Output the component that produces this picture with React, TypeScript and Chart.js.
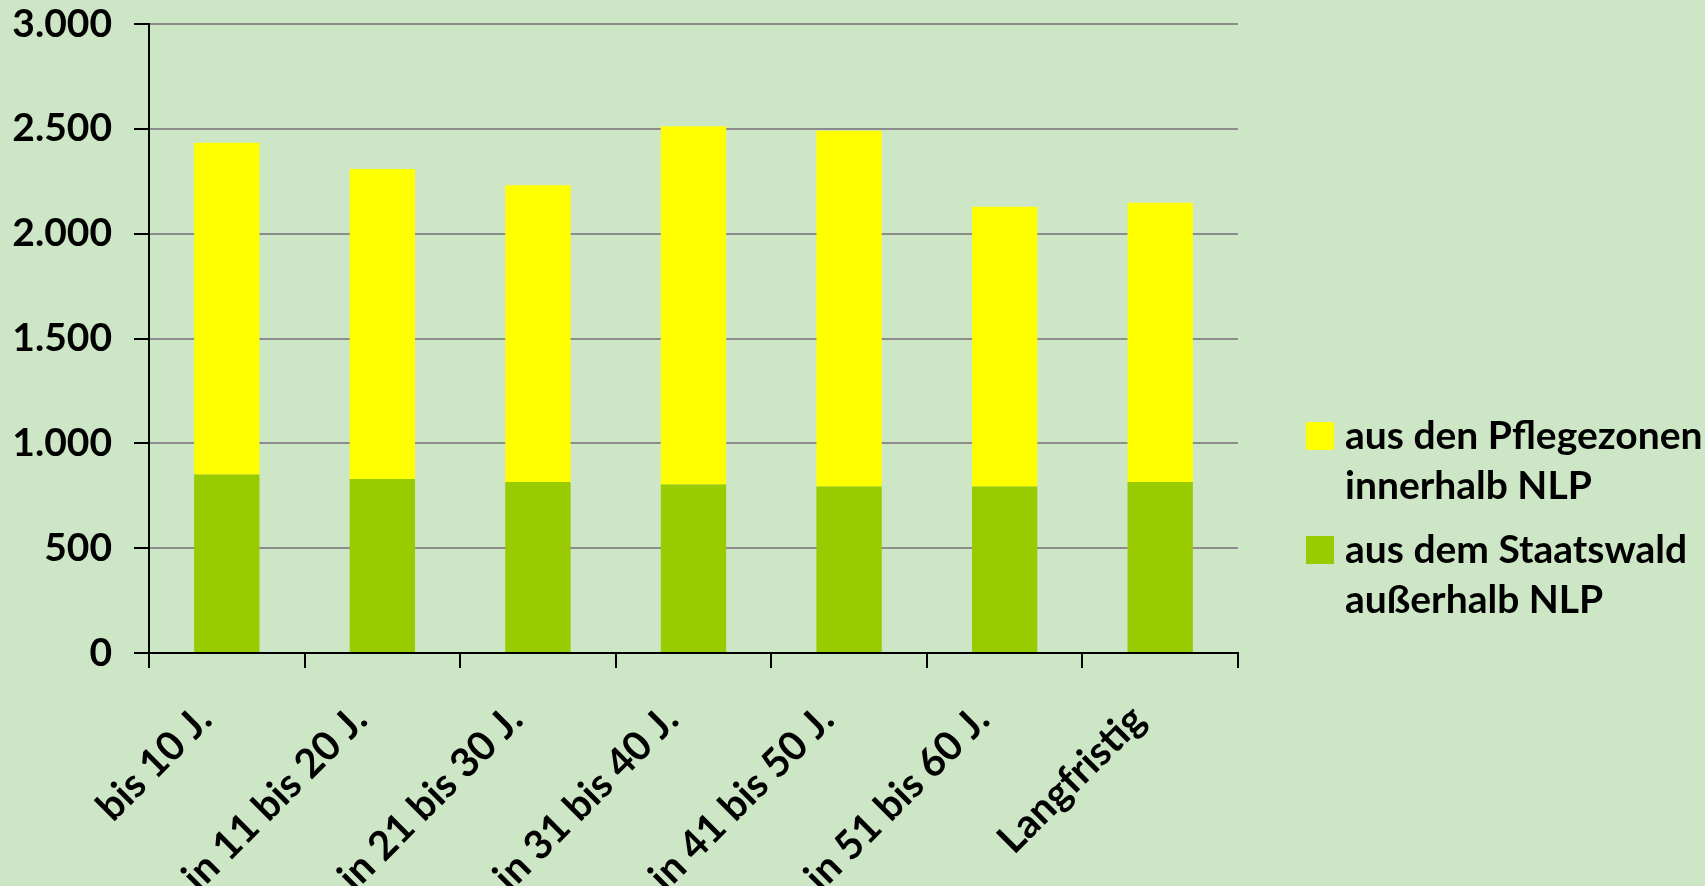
import React, { useEffect, useRef } from 'react';
import { Chart, registerables } from 'chart.js';

Chart.register(...registerables);

const categories = [
  'bis 10 J.',
  'in 11 bis 20 J.',
  'in 21 bis 30 J.',
  'in 31 bis 40 J.',
  'in 41 bis 50 J.',
  'in 51 bis 60 J.',
  'Langfristig',
];
const staatswald = [851, 830, 815, 804, 794, 794, 815];
const pflegezonen = [1583, 1479, 1416, 1708, 1697, 1334, 1333];
const staatswaldLabel = ['aus dem Staatswald', 'außerhalb NLP'];
const pflegezonenLabel = ['aus den Pflegezonen', 'innerhalb NLP'];
const yMax = 3000;
const yStep = 500;

const BG = '#cde6c5';
const YELLOW = '#ffff00';
const GREEN = '#99cc00';
const FONT = 'Lato, "Open Sans", sans-serif';

function formatDe(v: number): string {
  const s = Math.round(v).toString();
  return s.replace(/\B(?=(\d{3})+(?!\d))/g, '.');
}

const sideLegend = {
  id: 'sideLegend',
  afterDraw(chart: any) {
    const ctx = chart.ctx;
    const ds = chart.data.datasets;
    const order = [1, 0];
    const x0 = chart.chartArea.right + 68;
    const startY = 422;
    const blockGap = 114;
    const lineH = 50;
    ctx.save();
    ctx.font = `bold 39px ${FONT}`;
    ctx.fillStyle = '#000';
    ctx.textAlign = 'left';
    ctx.textBaseline = 'alphabetic';
    order.forEach((di, k) => {
      const d = ds[di];
      const top = startY + k * blockGap;
      ctx.fillStyle = d.backgroundColor;
      ctx.fillRect(x0, top, 28, 28);
      ctx.fillStyle = '#000';
      const lines: string[] = d.legendLines;
      lines.forEach((t, i) => {
        ctx.fillText(t, x0 + 39, top + 27 + i * lineH);
      });
    });
    ctx.restore();
  },
};

export default function App() {
  const ref = useRef<HTMLCanvasElement | null>(null);
  useEffect(() => {
    if (!ref.current) return;
    const chart = new Chart(ref.current, {
      type: 'bar',
      data: {
        labels: categories,
        datasets: [
          {
            label: staatswaldLabel.join(' '),
            legendLines: staatswaldLabel,
            data: staatswald,
            backgroundColor: GREEN,
            borderWidth: 0,
          } as any,
          {
            label: pflegezonenLabel.join(' '),
            legendLines: pflegezonenLabel,
            data: pflegezonen,
            backgroundColor: YELLOW,
            borderWidth: 0,
          } as any,
        ],
      },
      options: {
        animation: false,
        responsive: true,
        maintainAspectRatio: false,
        devicePixelRatio: 1,
        layout: { padding: { top: 24, left: 0, right: 467, bottom: 0 } },
        datasets: {
          bar: { categoryPercentage: 1, barPercentage: 0.42 },
        },
        plugins: {
          legend: { display: false },
          tooltip: { enabled: false },
          title: { display: false },
        },
        scales: {
          x: {
            stacked: true,
            offset: true,
            afterFit: (s: any) => {
              s.height = 233;
              s.paddingTop = 0;
              s.paddingBottom = 0;
            },
            grid: {
              display: true,
              offset: true,
              drawOnChartArea: false,
              drawTicks: true,
              tickLength: 15,
              tickColor: '#000',
              tickWidth: 2,
              lineWidth: 2,
              color: '#000',
            },
            border: { display: true, color: '#000', width: 2 },
            ticks: {
              autoSkip: false,
              maxRotation: 45,
              minRotation: 45,
              padding: 28,
              labelOffset: -22,
              color: '#000',
              font: { family: FONT, size: 40, weight: 'bold' },
            },
          },
          y: {
            stacked: true,
            min: 0,
            max: yMax,
            afterFit: (s: any) => {
              s.width = 149;
              s.paddingTop = 0;
              s.paddingBottom = 0;
            },
            grid: {
              color: (c: any) => (c.tick && c.tick.value === 0 ? '#000' : '#8c8c8c'),
              lineWidth: 2,
              drawTicks: true,
              tickLength: 15,
              tickColor: '#000',
              tickWidth: 2,
            },
            border: { display: true, color: '#000', width: 2 },
            ticks: {
              stepSize: yStep,
              padding: 22,
              color: '#000',
              font: { family: FONT, size: 39, weight: 'bold' },
              callback: (v: any) => formatDe(Number(v)),
            },
          },
        },
      } as any,
      plugins: [sideLegend],
    });
    return () => chart.destroy();
  }, []);
  return (
    <div
      style={{
        position: 'absolute',
        left: 0,
        top: 0,
        width: 1705,
        height: 886,
        background: BG,
        overflow: 'hidden',
      }}
    >
      <canvas ref={ref} />
    </div>
  );
}
